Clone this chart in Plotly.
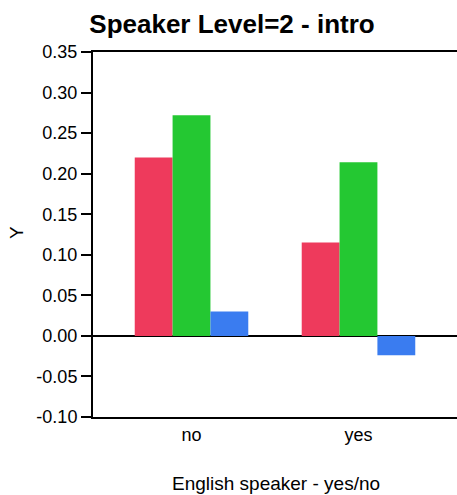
import plotly.graph_objects as go

categories = ["no", "yes"]
series_a = [0.220, 0.115]
series_b = [0.272, 0.214]
series_c = [0.030, -0.024]
colors = ["#EE3A5C", "#24C832", "#3A7CF0"]
y_tick_vals = [-0.10, -0.05, 0.00, 0.05, 0.10, 0.15, 0.20, 0.25, 0.30, 0.35]
y_tick_text = ["-0.10", "-0.05", "0.00", "0.05", "0.10", "0.15", "0.20", "0.25", "0.30", "0.35"]

fig = go.Figure()
for vals, col in zip([series_a, series_b, series_c], colors):
    fig.add_trace(go.Bar(x=categories, y=vals, marker=dict(color=col, line=dict(width=0)),
                         showlegend=False))

font = "Arial, Liberation Sans, sans-serif"
fig.update_layout(
    width=457, height=495,
    margin=dict(l=93, r=0, t=52, b=78, autoexpand=False),
    paper_bgcolor="white", plot_bgcolor="white",
    barmode="group", bargap=0.32, bargroupgap=0,
    font=dict(family=font, size=18, color="black"),
    title=dict(text="<b>Speaker Level=2 - intro</b>", x=232 / 457, xanchor="center",
               y=1 - 24 / 495, yanchor="middle", font=dict(size=26, family=font, color="black")),
    xaxis=dict(type="category", range=[-0.59, 1.59], showline=True, linecolor="black",
               linewidth=2, mirror=True, ticks="", showgrid=False, automargin=False,
               tickfont=dict(size=18)),
    yaxis=dict(range=[-0.10, 0.35], tickvals=y_tick_vals, ticktext=y_tick_text,
               showline=True, linecolor="black", linewidth=2, ticks="outside",
               ticklen=10, tickwidth=2, tickcolor="black", showgrid=False,
               zeroline=True, zerolinecolor="black", zerolinewidth=2, automargin=False,
               tickfont=dict(size=18)),
    annotations=[
        dict(text="English speaker - yes/no", xref="paper", yref="paper",
             x=(276 - 93) / 364, y=-(483 - 417) / 365, xanchor="center", yanchor="middle",
             showarrow=False, font=dict(size=19, family=font, color="black")),
        dict(text="Y", xref="paper", yref="paper", textangle=-90,
             x=-(93 - 16) / 364, y=(417 - 233) / 365, xanchor="center", yanchor="middle",
             showarrow=False, font=dict(size=19, family=font, color="black")),
    ],
)
fig.write_html("out.html", config={"displayModeBar": False},
               post_script="document.body.style.margin='0';")
